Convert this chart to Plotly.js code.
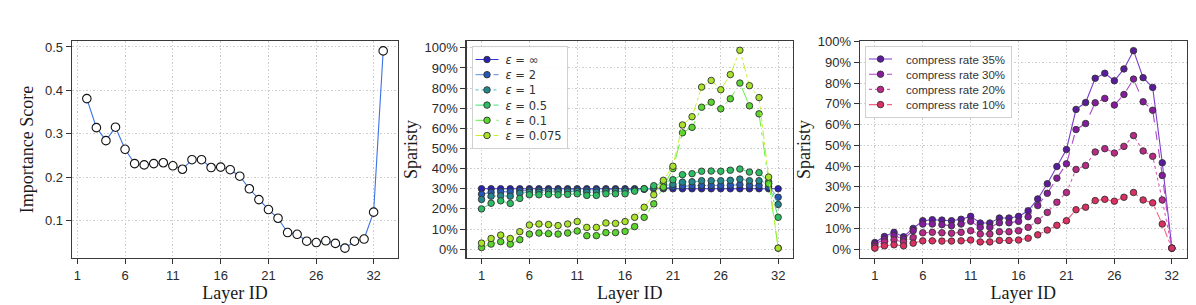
<!DOCTYPE html>
<html><head><meta charset="utf-8">
<script src="https://cdn.plot.ly/plotly-3.0.1.min.js"></script>
<style>html,body{margin:0;padding:0;background:#fff}#chart{width:1196px;height:305px}</style>
</head><body><div id="chart"></div>
<script>
const layers = [1,2,3,4,5,6,7,8,9,10,11,12,13,14,15,16,17,18,19,20,21,22,23,24,25,26,27,28,29,30,31,32];
const importanceLayers = [2,3,4,5,6,7,8,9,10,11,12,13,14,15,16,17,18,19,20,21,22,23,24,25,26,27,28,29,30,31,32,33];
const importanceScore = [0.381,0.314,0.284,0.315,0.264,0.231,0.228,0.231,0.233,0.226,0.218,0.240,0.240,0.222,0.223,0.217,0.202,0.173,0.148,0.125,0.105,0.072,0.068,0.052,0.049,0.053,0.047,0.036,0.052,0.057,0.119,0.491];
const xTicks = [1,6,11,16,21,26,32];
const scoreTicks = [0.1,0.2,0.3,0.4,0.5];
const scoreTickText = ['0.1','0.2','0.3','0.4','0.5'];
const pctTicks = [0,10,20,30,40,50,60,70,80,90,100];
const pctTickText = ['0%','10%','20%','30%','40%','50%','60%','70%','80%','90%','100%'];

const epsLabels = ['<i>ε</i> = ∞','<i>ε</i> = 2','<i>ε</i> = 1','<i>ε</i> = 0.5','<i>ε</i> = 0.1','<i>ε</i> = 0.075'];
const epsInf = [30,30,30,30,30,30,30,30,30,30,30,30,30,30,30,30,30,30,30,30,30,30,30,30,30,30,30,30,30,30,30,30];
const eps2 = [27.3,28.2,28.5,28.5,29.0,29.2,29.3,29.3,29.4,29.4,29.5,29.4,29.4,29.5,29.5,29.5,29.6,29.8,30.2,30.6,31.0,31.4,31.5,31.6,31.6,31.6,31.7,32.0,31.7,31.6,31.0,25.8];
const eps1 = [24.7,26.3,26.5,26.3,27.8,28.3,28.3,28.5,28.5,28.5,28.7,28.3,28.3,28.7,28.7,28.8,29.2,29.8,30.5,31.5,32.2,33.3,33.5,34.0,34.0,34.0,34.2,34.8,34.0,34.0,32.5,22.2];
const eps05 = [20.0,22.8,24.0,22.7,25.2,27.0,27.0,27.2,27.0,27.2,27.5,26.7,26.7,27.5,27.5,27.5,28.8,30.0,31.5,33.0,34.5,37.0,37.5,38.7,38.8,38.7,39.2,39.8,38.3,38.0,33.5,15.8];
const eps01 = [0.8,2.5,3.7,2.5,4.7,7.5,8.0,7.7,7.5,8.0,9.0,6.7,6.7,8.2,8.2,8.8,11.2,15.8,22.5,30.8,40.0,57.8,60.5,70.5,73.0,69.7,74.7,82.5,71.2,67.2,32.5,0.5];
const eps0075 = [3.0,5.3,7.0,5.3,8.7,12.0,12.5,12.2,11.7,12.5,13.7,10.8,10.8,13.0,12.8,13.7,15.8,20.8,27.0,34.2,41.2,61.7,65.8,80.5,83.8,79.2,86.7,98.8,81.2,75.3,35.8,0.5];

const rateLabels = ['compress rate 35%','compress rate 30%','compress rate 20%','compress rate 10%'];
const cr35 = [3.2,6.1,8.1,6.0,10.0,13.7,14.2,14.0,13.7,14.4,15.8,12.6,12.6,15.0,15.0,15.8,18.5,24.2,31.5,39.8,48.0,67.3,70.6,82.3,84.7,81.1,86.8,95.6,82.6,77.9,41.6,0.5];
const cr30 = [2.4,4.8,6.5,4.8,8.9,12.1,12.1,11.8,11.3,12.1,13.4,10.5,10.5,12.7,12.7,13.4,15.6,21.0,26.9,34.2,41.1,57.6,60.5,70.5,72.6,69.4,74.5,81.9,71.0,66.9,35.5,0.5];
const cr20 = [1.3,3.5,4.5,3.5,5.6,7.9,8.1,7.9,7.7,8.1,8.9,7.3,7.3,8.4,8.4,8.9,10.5,13.7,17.7,22.6,27.3,38.4,40.3,46.8,48.4,46.3,49.5,54.7,47.3,44.7,23.7,0.5];
const cr10 = [0.5,1.6,2.1,1.6,2.9,4.0,4.0,3.9,3.9,4.0,4.4,3.5,3.5,4.2,4.2,4.4,5.3,6.9,9.2,11.5,13.7,19.0,20.2,23.4,24.0,23.1,25.0,27.3,23.7,22.3,12.1,0.5];

const epsSeries = [epsInf, eps2, eps1, eps05, eps01, eps0075];
const epsMarker = ['#2a22b0','#2458b4','#24878c','#2fbd63','#5ad62e','#a8e22a'];
const epsLine = ['#3434d4','#5a8ae0','#48c2c8','#40e070','#62f03c','#c4f030'];
const epsDash = ['solid','dash','dot','dashdot','longdashdot','dashdot'];

const rateSeries = [cr35, cr30, cr20, cr10];
const rateMarker = ['#5a1c9c','#861c9c','#b82a86','#dc2f62'];
const rateLine = ['#7a3ccc','#ae48c8','#e05ab4','#f06484'];
const rateDash = ['solid','dash','dot','dashdot'];

const W = 1196, H = 305;
const yDom = [1 - 258/H, 1 - 41/H];
const tickFont = {family: 'Liberation Sans, Arial, sans-serif', size: 13, color: '#2a2a2a'};
const titleFont = {family: 'Liberation Serif, Times New Roman, serif', size: 18, color: '#1a1a1a'};

function xaxis(dom, range, anchor) {
  return {domain: dom, range: range, anchor: anchor, tickvals: xTicks, ticks: 'outside', ticklen: 5, tickwidth: 1, tickcolor: '#333',
    showline: true, mirror: true, linecolor: '#3a3a3a', linewidth: 1.3, showgrid: true, gridcolor: '#cdcdcd', griddash: '1.5px,2px', gridwidth: 1,
    zeroline: false, tickfont: tickFont, automargin: false, title: {text: 'Layer ID', font: titleFont, standoff: 0}};
}
function yaxis(range, anchor, ticks, ticktext, title, standoff) {
  return {domain: yDom, range: range, anchor: anchor, tickvals: ticks, ticktext: ticktext, ticks: 'outside', ticklen: 5, tickwidth: 1, tickcolor: '#333',
    showline: true, mirror: true, linecolor: '#3a3a3a', linewidth: 1.3, showgrid: true, gridcolor: '#cdcdcd', griddash: '1.5px,2px', gridwidth: 1,
    zeroline: false, tickfont: tickFont, automargin: false, title: {text: title, font: titleFont, standoff: standoff}};
}

const traces = [];
traces.push({x: importanceLayers, y: importanceScore, xaxis: 'x', yaxis: 'y', type: 'scatter', mode: 'lines+markers', showlegend: false,
  line: {color: '#3d72e6', width: 1.1}, marker: {size: 8.5, color: '#ffffff', line: {color: '#111', width: 1.1}}});

epsSeries.forEach((s, i) => traces.push({x: layers, y: s, xaxis: 'x2', yaxis: 'y2', type: 'scatter', mode: 'lines+markers', name: epsLabels[i], legend: 'legend',
  line: {color: epsLine[i], width: 1, dash: epsDash[i]}, marker: {size: 6.5, color: epsMarker[i], line: {color: '#333', width: 0.9}}}));

rateSeries.forEach((s, i) => traces.push({x: layers, y: s, xaxis: 'x3', yaxis: 'y3', type: 'scatter', mode: 'lines+markers', name: rateLabels[i], legend: 'legend2',
  line: {color: rateLine[i], width: 1.1, dash: rateDash[i]}, marker: {size: 6.5, color: rateMarker[i], line: {color: '#333', width: 0.9}}}));

const layout = {
  width: W, height: H, margin: {l: 0, r: 0, t: 0, b: 0}, paper_bgcolor: '#fff', plot_bgcolor: '#fff', showlegend: true,
  xaxis: xaxis([72/W, 398/W], [0.45, 34.55], 'y'),
  yaxis: yaxis([0.0133, 0.5138], 'x', scoreTicks, scoreTickText, 'Importance Score', 6),
  xaxis2: xaxis([466.7/W, 793/W], [-0.55, 33.55], 'y2'),
  yaxis2: yaxis([-4.4, 103.4], 'x2', pctTicks, pctTickText, 'Sparisty', 2),
  xaxis3: xaxis([860/W, 1186.7/W], [-0.55, 33.55], 'y3'),
  yaxis3: yaxis([-4.25, 100.25], 'x3', pctTicks, pctTickText, 'Sparisty', 2),
  legend: {x: 471.5/W, y: 1 - 46/H, xanchor: 'left', yanchor: 'top', bgcolor: 'rgba(255,255,255,0.85)', bordercolor: '#d0d0d0', borderwidth: 1,
    font: {family: 'DejaVu Sans, sans-serif', size: 11.5, color: '#333'}, itemwidth: 30, tracegroupgap: 0},
  legend2: {x: 865/W, y: 1 - 45.5/H, xanchor: 'left', yanchor: 'top', bgcolor: 'rgba(255,255,255,0.85)', bordercolor: '#d0d0d0', borderwidth: 1,
    font: {family: 'Liberation Sans, Arial, sans-serif', size: 11.5, color: '#333'}, itemwidth: 30, tracegroupgap: 0}
};

// Tighten Plotly's legend to the compact matplotlib-style spacing of the reference.
function compactLegend(gd, spacing) {
  const legends = gd.querySelectorAll('g.infolayer > g[class^="legend"]');
  legends.forEach(lg => {
    const items = Array.from(lg.querySelectorAll('g.traces'));
    if (items.length < 2) return;
    const parse = g => { const m = /translate\(\s*([-\d.e]+)[ ,]+([-\d.e]+)\s*\)/.exec(g.getAttribute('transform') || ''); return m ? [parseFloat(m[1]), parseFloat(m[2])] : null; };
    const p0 = parse(items[0]), p1 = parse(items[1]);
    if (!p0 || !p1) return;
    const oldSpacing = p1[1] - p0[1];
    const y0 = p0[1] - 2;
    let maxRight = 0;
    items.forEach((g, i) => {
      const p = parse(g);
      g.setAttribute('transform', 'translate(' + p[0] + ',' + (y0 + spacing * i) + ')');
      g.querySelectorAll('g.legendlines path').forEach(pa => pa.setAttribute('d', 'M3,0h23'));
      g.querySelectorAll('g.legendpoints path.scatterpts').forEach(pa => pa.setAttribute('transform', 'translate(14.5,0)'));
      const t = g.querySelector('text.legendtext');
      if (t) {
        t.setAttribute('x', parseFloat(t.getAttribute('x') || 0) - 7);
        const bb = t.getBBox();
        maxRight = Math.max(maxRight, p[0] + bb.x + bb.width);
      }
    });
    const shrink = (oldSpacing - spacing) * (items.length - 1) + 4;
    const bg = lg.querySelector('rect.bg');
    if (bg) {
      bg.setAttribute('height', parseFloat(bg.getAttribute('height')) - shrink);
      if (maxRight > 0) bg.setAttribute('width', maxRight + 5);
    }
  });
}

Plotly.newPlot('chart', traces, layout, {staticPlot: true, displayModeBar: false}).then(gd => compactLegend(gd, 15.2));
</script>
</body></html>
